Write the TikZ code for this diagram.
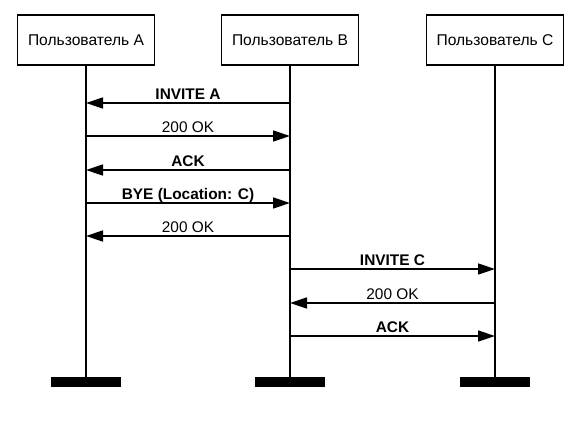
\documentclass[tikz,border=0pt]{standalone}
\usepackage{fontspec}
\setmainfont{Liberation Sans}
\usetikzlibrary{arrows.meta}
\begin{document}
\begin{tikzpicture}[x=1pt,y=-1pt,
  actor/.style={draw,line width=1.6pt,minimum width=137pt,minimum height=50pt,inner sep=0pt,font=\fontsize{15.6}{18}\selectfont},
  endbar/.style={fill=black,minimum width=70pt,minimum height=10pt,inner sep=0pt},
  life/.style={line width=1.8pt},
  msg/.style={line width=1.5pt,-{Triangle[length=17pt,width=11pt]}},
  lbl/.style={anchor=base,inner sep=0pt,font=\fontsize{15.4}{17}\selectfont\bfseries},
  lblr/.style={anchor=base,inner sep=0pt,font=\fontsize{15.4}{17}\selectfont}]
\useasboundingbox (0,0) rectangle (581,421);
\node[actor] (A) at (86,40) {Пользователь A};
\node[actor] (B) at (290,40) {Пользователь B};
\node[actor] (C) at (495,40) {Пользователь C};
\node[endbar] (bA) at (86,382) {};
\node[endbar] (bB) at (290,382) {};
\node[endbar] (bC) at (495,382) {};
\draw[life] (A) -- (bA);
\draw[life] (B) -- (bB);
\draw[life] (C) -- (bC);
\foreach \n/\y in {1/103,2/136,3/170,4/203,5/236,6/269,7/303,8/336}{
  \coordinate (a\n) at (86,\y);
  \coordinate (b\n) at (290,\y);
  \coordinate (c\n) at (495,\y);
}
\draw[msg] (b1) -- (a1) node[lbl,pos=0.5,yshift=4pt] (l1) {INVITE A};
\draw[msg] (a2) -- (b2) node[lblr,pos=0.5,yshift=4pt] (l2) {200 OK};
\draw[msg] (b3) -- (a3) node[lbl,pos=0.5,yshift=4pt] (l3) {ACK};
\draw[msg] (a4) -- (b4) node[lbl,pos=0.5,yshift=4pt] (l4) {BYE (Location: C)};
\draw[msg] (b5) -- (a5) node[lblr,pos=0.5,yshift=4pt] (l5) {200 OK};
\draw[msg] (b6) -- (c6) node[lbl,pos=0.5,yshift=4pt] (l6) {INVITE C};
\draw[msg] (c7) -- (b7) node[lblr,pos=0.5,yshift=4pt] (l7) {200 OK};
\draw[msg] (b8) -- (c8) node[lbl,pos=0.5,yshift=4pt] (l8) {ACK};
\end{tikzpicture}
\end{document}
